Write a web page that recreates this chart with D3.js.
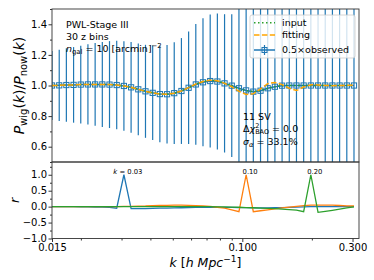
<!DOCTYPE html>
<html><head><meta charset="utf-8">
<script src="https://cdn.jsdelivr.net/npm/d3@7"></script>
<style>body{margin:0;background:#fff} svg{display:block} text{font-family:"DejaVu Sans",sans-serif;fill:#000}</style>
</head><body><svg id="c" width="374" height="280"></svg>
<script>
// ---------------- data ----------------
const kValues = [0.0150,0.01612,0.01731,0.01860,0.01998,0.02146,0.02306,0.02477,0.02661,0.02859,
  0.03072,0.03300,0.03545,0.03809,0.04092,0.04396,0.04722,0.05073,0.05450,0.05855,
  0.06290,0.06757,0.07260,0.07799,0.08378,0.09001,0.09670,0.10388,0.11160,0.11990,
  0.12880,0.13838,0.14866,0.15970,0.17157,0.18432,0.19801,0.21273,0.22854,0.24552,
  0.26376,0.28336,0.30441];
const observed = [1.000,1.001,1.003,1.004,1.006,1.007,1.007,1.007,1.006,1.003,
  0.997,0.988,0.975,0.962,0.952,0.944,0.943,0.950,0.964,0.985,
  1.007,1.021,1.029,1.026,1.014,0.999,0.982,0.968,0.960,0.966,
  0.982,0.992,0.999,1.000,1.000,1.000,1.000,1.000,1.000,1.000,
  1.000,1.000,1.000];
const errors = [0.226,0.233,0.240,0.247,0.254,0.262,0.270,0.278,0.284,0.289,
  0.293,0.297,0.300,0.304,0.309,0.315,0.322,0.332,0.346,0.368,
  0.395,0.418,0.435,0.445,0.452,0.466,0.52,0.58,0.65,0.73,
  0.82,0.92,1.03,1.15,1.28,1.42,1.58,1.76,1.95,2.17,
  2.41,2.68,2.98];
const inputCurve = [1.000,1.001,1.003,1.004,1.006,1.007,1.007,1.007,1.006,1.003,
  0.997,0.988,0.975,0.962,0.952,0.944,0.943,0.950,0.964,0.986,
  1.009,1.025,1.034,1.030,1.015,0.998,0.980,0.966,0.960,0.966,
  0.982,0.992,0.999,1.000,1.000,1.000,1.000,1.000,1.000,1.000,
  1.000,1.000,1.000];
const fitCurve = [1.000,1.001,1.003,1.004,1.006,1.007,1.007,1.007,1.006,1.003,
  0.997,0.988,0.975,0.962,0.952,0.944,0.943,0.950,0.964,0.986,
  1.010,1.026,1.035,1.031,1.014,0.992,0.962,0.942,0.946,0.978,
  1.012,1.020,1.006,0.982,0.967,0.990,1.005,1.004,1.000,0.999,
  1.000,1.001,1.001];
const rK003 = [0,0,0,-0.002,-0.005,-0.008,-0.012,-0.018,-0.025,-0.05,
  1.0,-0.06,-0.062,-0.06,-0.056,-0.05,-0.045,-0.04,-0.035,-0.03,
  -0.026,-0.022,-0.02,-0.02,-0.022,-0.026,-0.03,-0.034,-0.038,-0.04,
  -0.04,-0.036,-0.03,-0.022,-0.014,-0.007,-0.003,0,0,0,
  0,0,0];
const rK010 = [0,0,0,0,0,0,0,0,0,0,
  0.005,0.01,0.015,0.02,0.03,0.035,0.04,0.045,0.045,0.04,
  0.03,0.02,0.005,-0.02,-0.05,-0.1,-0.16,1.0,-0.16,-0.13,
  -0.1,-0.07,-0.04,-0.015,0.01,0.03,0.045,0.05,0.05,0.045,
  0.035,0.025,0.02];
const rK020 = [0,0,0,0,0,0,0,0,0,0,
  0,0,0,0,0,0,0,0,0,0,
  0,0,0,-0.005,-0.01,-0.015,-0.02,-0.03,-0.035,-0.045,
  -0.055,-0.065,-0.08,-0.095,-0.11,-0.16,1.0,-0.18,-0.15,-0.115,
  -0.08,-0.04,-0.005];
const peakIndex = [10, 27, 36];
const peakLabels = ["0.03", "0.10", "0.20"];
const xTickValues = [0.015, 0.1, 0.3];
const xTickLabels = ["0.015", "0.100", "0.300"];
const xMinorTicks = [0.02,0.03,0.04,0.05,0.06,0.07,0.08,0.09,0.2];
const yTopTicks = [0.6,0.8,1.0,1.2,1.4];
const yTopMinor = [0.5,0.7,0.9,1.1,1.3,1.5];
const yBotTicks = [-1.0,-0.5,0.0,0.5,1.0];
const yBotMinor = [-0.75,-0.25,0.25,0.75,1.25];

// ---------------- layout ----------------
const svg = d3.select("#c");
const L = 52, R = 359, T = 9, MID = 162, B = 238.5;
const x = d3.scaleLog().domain([0.015, 0.32]).range([L, R]);
const yT = d3.scaleLinear().domain([0.5, 1.5]).range([MID, T]);
const yB = d3.scaleLinear().domain([-1, 1.4]).range([B, MID]);
const blue = "#1f77b4", orange = "#ff7f0e", green = "#2ca02c";

const defs = svg.append("defs");
defs.append("clipPath").attr("id","clipT").append("rect").attr("x",L).attr("y",T).attr("width",R-L).attr("height",MID-T);
defs.append("clipPath").attr("id","clipB").append("rect").attr("x",L).attr("y",MID).attr("width",R-L).attr("height",B-MID);

// ---------------- top panel ----------------
const gT = svg.append("g").attr("clip-path","url(#clipT)");
gT.selectAll("line.eb").data(kValues).join("line").attr("class","eb")
  .attr("x1",d=>x(d)).attr("x2",d=>x(d))
  .attr("y1",(d,i)=>yT(observed[i]-errors[i])).attr("y2",(d,i)=>yT(observed[i]+errors[i]))
  .attr("stroke",blue).attr("stroke-width",1.2);
const lineT = d3.line().x((d,i)=>x(kValues[i])).y(d=>yT(d));
gT.append("path").attr("d",lineT(observed)).attr("fill","none").attr("stroke",blue).attr("stroke-width",1.5);
gT.selectAll("rect.m").data(observed).join("rect").attr("class","m")
  .attr("x",(d,i)=>x(kValues[i])-2.6).attr("y",d=>yT(d)-2.6).attr("width",5.2).attr("height",5.2)
  .attr("fill","none").attr("stroke",blue).attr("stroke-width",1);
gT.append("path").attr("d",lineT(inputCurve)).attr("fill","none").attr("stroke",green)
  .attr("stroke-width",1.5).attr("stroke-dasharray","1.5,2.5");
gT.append("path").attr("d",lineT(fitCurve)).attr("fill","none").attr("stroke","#ffa500")
  .attr("stroke-width",1.5).attr("stroke-dasharray","5.5,2.4");

// ---------------- bottom panel ----------------
const gB = svg.append("g").attr("clip-path","url(#clipB)");
const lineB = d3.line().x((d,i)=>x(kValues[i])).y(d=>yB(d));
[[rK003,blue],[rK010,orange],[rK020,green]].forEach(([arr,c])=>{
  gB.append("path").attr("d",lineB(arr)).attr("fill","none").attr("stroke",c).attr("stroke-width",1.3);
});
peakIndex.forEach((pi,j)=>{
  const t = svg.append("text").attr("x",x(kValues[pi])+4).attr("y",yB(1.0)-1)
    .attr("text-anchor","middle").attr("font-size",6.8);
  if(j===0){ t.append("tspan").attr("font-style","italic").text("k"); t.append("tspan").text(" = "+peakLabels[j]); }
  else t.text(peakLabels[j]);
});

// ---------------- axes ----------------
function styleAxis(g){ g.select(".domain").remove(); g.selectAll("line").attr("stroke","#000").attr("stroke-width",0.8); g.selectAll("text").attr("font-family","DejaVu Sans").attr("font-size",10); }
svg.append("g").attr("transform",`translate(${L},0)`)
  .call(d3.axisLeft(yT).tickValues(yTopTicks).tickFormat(d3.format(".1f")).tickSize(3.5).tickPadding(1.5)).call(styleAxis);
svg.append("g").attr("transform",`translate(${L},0)`)
  .call(d3.axisLeft(yT).tickValues(yTopMinor).tickFormat("").tickSize(2)).call(styleAxis);
svg.append("g").attr("transform",`translate(${L},0)`)
  .call(d3.axisLeft(yB).tickValues(yBotTicks).tickFormat(d3.format(".1f")).tickSize(3.5).tickPadding(1.5)).call(styleAxis);
svg.append("g").attr("transform",`translate(${L},0)`)
  .call(d3.axisLeft(yB).tickValues(yBotMinor).tickFormat("").tickSize(2)).call(styleAxis);
svg.append("g").attr("transform",`translate(0,${B})`)
  .call(d3.axisBottom(x).tickValues(xTickValues).tickFormat((d,i)=>xTickLabels[i]).tickSize(3.5).tickPadding(2)).call(styleAxis);
svg.append("g").attr("transform",`translate(0,${B})`)
  .call(d3.axisBottom(x).tickValues(xMinorTicks).tickFormat("").tickSize(2)).call(styleAxis);

// spines
svg.append("rect").attr("x",L).attr("y",T).attr("width",R-L).attr("height",MID-T).attr("fill","none").attr("stroke","#333").attr("stroke-width",0.9);
svg.append("rect").attr("x",L).attr("y",MID).attr("width",R-L).attr("height",B-MID).attr("fill","none").attr("stroke","#333").attr("stroke-width",0.9);

// ---------------- legend ----------------
const lg = svg.append("g");
lg.append("rect").attr("x",250).attr("y",15).attr("width",105).attr("height",43).attr("rx",2)
  .attr("fill","#fff").attr("fill-opacity",0.8).attr("stroke","#ccc").attr("stroke-width",0.8);
lg.append("line").attr("x1",254).attr("x2",275).attr("y1",22.7).attr("y2",22.7).attr("stroke",green).attr("stroke-width",1.5).attr("stroke-dasharray","1.5,2.5");
lg.append("line").attr("x1",254).attr("x2",275).attr("y1",35).attr("y2",35).attr("stroke","#ffa500").attr("stroke-width",1.5).attr("stroke-dasharray","5.5,2.4");
lg.append("line").attr("x1",254).attr("x2",275).attr("y1",50).attr("y2",50).attr("stroke",blue).attr("stroke-width",1.5);
lg.append("line").attr("x1",264.5).attr("x2",264.5).attr("y1",45).attr("y2",55).attr("stroke",blue).attr("stroke-width",1.2);
lg.append("rect").attr("x",262).attr("y",47.5).attr("width",5).attr("height",5).attr("fill","none").attr("stroke",blue).attr("stroke-width",1);
const legendNames = ["input","fitting","0.5×observed"];
const legendY = [25.8, 38, 53.3];
legendNames.forEach((n,i)=>lg.append("text").attr("x",282).attr("y",legendY[i]).attr("font-size",9.5).text(n));

// ---------------- annotations ----------------
const a1 = svg.append("g").attr("font-size",9.5);
a1.append("text").attr("x",66).attr("y",28).text("PWL-Stage III");
a1.append("text").attr("x",66).attr("y",40).text("30 z bins");
const t3 = a1.append("text").attr("x",66).attr("y",52);
t3.append("tspan").attr("font-style","italic").text("n");
t3.append("tspan").attr("font-size",6.8).attr("dy",2).text("gal");
t3.append("tspan").attr("dy",-2).text(" = 10 [arcmin]");
t3.append("tspan").attr("font-size",6.8).attr("dy",-4).text("−2");

const a2 = svg.append("g").attr("font-size",9.5);
a2.append("text").attr("x",243).attr("y",120).text("11 SV");
const s2 = a2.append("text").attr("x",243).attr("y",131.5);
s2.append("tspan").text("Δ");
s2.append("tspan").attr("font-style","italic").text("χ");
s2.append("tspan").attr("font-size",6.5).attr("dy",-4).text("2");
s2.append("tspan").attr("font-size",6.5).attr("dx",-4.1).attr("dy",6.5).text("BAO");
s2.append("tspan").attr("dy",-2.5).text(" = 0.0");
const s3 = a2.append("text").attr("x",243).attr("y",145);
s3.append("tspan").attr("font-style","italic").text("σ");
s3.append("tspan").attr("font-style","italic").attr("font-size",6.8).attr("dy",2).text("α");
s3.append("tspan").attr("dy",-2).text(" = 33.1%");

// ---------------- axis labels ----------------
const yl = svg.append("text").attr("transform",`translate(24,${(T+MID)/2}) rotate(-90)`)
  .attr("text-anchor","middle").attr("font-size",14);
yl.append("tspan").attr("font-style","italic").text("P");
yl.append("tspan").attr("font-size",10).attr("dy",3).text("wig");
yl.append("tspan").attr("dy",-3).text("(");
yl.append("tspan").attr("font-style","italic").text("k");
yl.append("tspan").text(")/");
yl.append("tspan").attr("font-style","italic").text("P");
yl.append("tspan").attr("font-size",10).attr("dy",3).text("now");
yl.append("tspan").attr("dy",-3).text("(");
yl.append("tspan").attr("font-style","italic").text("k");
yl.append("tspan").text(")");

svg.append("text").attr("transform",`translate(19,${(MID+B)/2}) rotate(-90)`)
  .attr("text-anchor","middle").attr("font-size",13).attr("font-style","italic").text("r");

const xl = svg.append("text").attr("x",(L+R)/2).attr("y",267).attr("text-anchor","middle").attr("font-size",12.5);
xl.append("tspan").attr("font-style","italic").text("k");
xl.append("tspan").text(" [");
xl.append("tspan").attr("font-style","italic").text("h Mpc");
xl.append("tspan").attr("font-size",9).attr("dy",-5).text("−1");
xl.append("tspan").attr("dy",5).text("]");
</script></body></html>
